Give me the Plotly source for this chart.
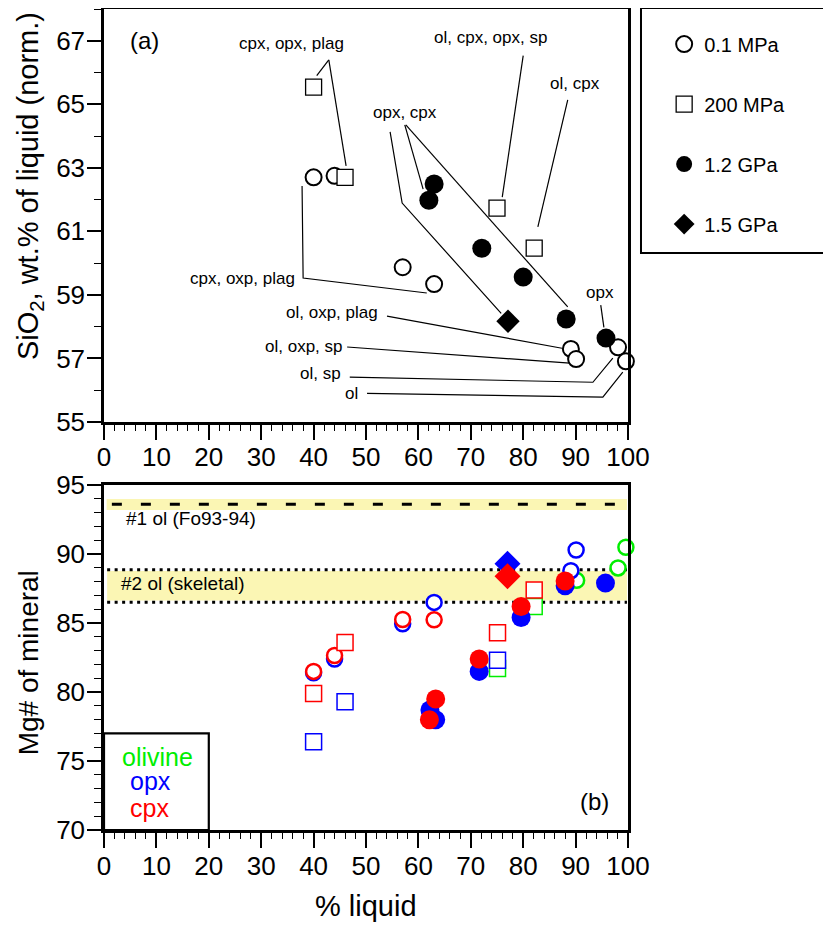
import plotly.graph_objects as go

# ---------------- data: panel (a) SiO2 of liquid ----------------
liq_01 = [40, 44, 57, 63, 89.1, 90.1, 98.1, 99.6]
sio2_01 = [62.7, 62.75, 59.87, 59.34, 57.3, 56.98, 57.35, 56.91]
liq_200 = [40, 46, 75, 82.1]
sio2_200 = [65.54, 62.7, 61.73, 60.47]
liq_12 = [62, 63, 72.1, 80, 88.2, 95.8]
sio2_12 = [61.98, 62.49, 60.47, 59.56, 58.24, 57.64]
liq_15 = [77.1]
sio2_15 = [58.17]

# ---------------- data: panel (b) Mg# of minerals ----------------
ol_01_x = [90.2, 98.1, 99.6]
ol_01_y = [88.1, 89.0, 90.5]
ol_200_x = [75.1, 82.1]
ol_200_y = [81.7, 86.2]

opx_01_x = [40, 44, 57, 63, 89.1, 90.1]
opx_01_y = [81.4, 82.4, 84.95, 86.5, 88.8, 90.3]
opx_200_x = [40, 46, 75.1]
opx_200_y = [76.4, 79.3, 82.3]
opx_12_x = [62.2, 63.3, 71.6, 79.6, 88.0, 95.7]
opx_12_y = [78.7, 78.0, 81.5, 85.4, 87.7, 87.9]
opx_15_x = [77.0]
opx_15_y = [89.3]

cpx_01_x = [40, 44, 57, 63]
cpx_01_y = [81.5, 82.65, 85.26, 85.24]
cpx_200_x = [40, 46, 75.1, 82.1]
cpx_200_y = [79.9, 83.6, 84.3, 87.4]
cpx_12_x = [62.1, 63.3, 71.6, 79.6, 88.0]
cpx_12_y = [78.0, 79.5, 82.4, 86.2, 88.05]
cpx_15_x = [77.0]
cpx_15_y = [88.4]

# phase-assemblage labels (panel a)
labels_a = ["cpx, opx, plag", "ol, cpx, opx, sp", "ol, cpx", "opx, cpx",
            "cpx, oxp, plag", "ol, oxp, plag", "ol, oxp, sp", "ol, sp", "ol", "opx"]

FONT = "Liberation Sans, Arial, Helvetica, sans-serif"
GREEN, BLUE, RED = "#00EE00", "#0000FF", "#FF0000"

fig = go.Figure()

# ---------------- panel (a) traces ----------------
fig.add_trace(go.Scatter(x=liq_01, y=sio2_01, mode="markers", name="0.1 MPa",
                         legendgroup="a", xaxis="x", yaxis="y", cliponaxis=False,
                         marker=dict(symbol="circle", size=16, color="white",
                                     line=dict(color="black", width=2))))
fig.add_trace(go.Scatter(x=liq_200, y=sio2_200, mode="markers", name="200 MPa",
                         legendgroup="b", xaxis="x", yaxis="y", cliponaxis=False,
                         marker=dict(symbol="square", size=16, color="white",
                                     line=dict(color="black", width=1.3))))
fig.add_trace(go.Scatter(x=liq_12, y=sio2_12, mode="markers", name="1.2 GPa",
                         legendgroup="c", xaxis="x", yaxis="y", cliponaxis=False,
                         marker=dict(symbol="circle", size=19, color="black")))
fig.add_trace(go.Scatter(x=liq_15, y=sio2_15, mode="markers", name="1.5 GPa",
                         legendgroup="d", xaxis="x", yaxis="y", cliponaxis=False,
                         marker=dict(symbol="diamond", size=18, color="black")))

# ---------------- panel (b) traces ----------------
def add_b(x, y, symbol, color, filled, size, lw):
    if filled:
        mk = dict(symbol=symbol, size=size, color=color, line=dict(width=0))
    else:
        mk = dict(symbol=symbol, size=size, color="white", line=dict(color=color, width=lw))
    fig.add_trace(go.Scatter(x=x, y=y, mode="markers", showlegend=False,
                             xaxis="x2", yaxis="y2", cliponaxis=False, marker=mk))

add_b(ol_01_x, ol_01_y, "circle", GREEN, False, 15, 2.5)
add_b(opx_01_x, opx_01_y, "circle", BLUE, False, 15, 2.5)
add_b(cpx_01_x, cpx_01_y, "circle", RED, False, 15, 2.5)
add_b(ol_200_x, ol_200_y, "square", GREEN, False, 16, 1.5)
add_b(opx_200_x, opx_200_y, "square", BLUE, False, 16, 1.5)
add_b(cpx_200_x, cpx_200_y, "square", RED, False, 16, 1.5)
add_b(opx_12_x, opx_12_y, "circle", BLUE, True, 19, 0)
add_b(cpx_12_x, cpx_12_y, "circle", RED, True, 19, 0)
add_b(opx_15_x, opx_15_y, "diamond", BLUE, True, 20, 0)
add_b(cpx_15_x, cpx_15_y, "diamond", RED, True, 20, 0)

# ---------------- leader lines (panel a) ----------------
leaders = [
    [(42.9, 66.40), (40.6, 65.90)],
    [(42.9, 66.40), (46.2, 63.06)],
    [(80.0, 66.53), (76.0, 62.08)],
    [(88.5, 65.14), (82.8, 61.14)],
    [(57.4, 64.35), (60.9, 62.33)],
    [(57.6, 64.35), (88.5, 58.62)],
    [(54.6, 64.13), (56.9, 61.89), (75.8, 58.42)],
    [(37.8, 62.43), (38.0, 59.53), (61.6, 59.06)],
    [(54.0, 58.33), (87.4, 57.32)],
    [(46.4, 57.36), (88.9, 56.85)],
    [(46.9, 56.41), (93.3, 56.25), (97.1, 57.01)],
    [(50.2, 55.90), (95.2, 55.78), (99.0, 56.57)],
    [(94.8, 58.68), (95.4, 57.98)],
]
shapes = []
for pts in leaders:
    path = "M " + " L ".join(f"{px},{py}" for px, py in pts)
    shapes.append(dict(type="path", path=path, xref="x", yref="y",
                       line=dict(color="black", width=1.2)))

# label placement: (x, y, xanchor)
label_pos = [(35.7, 66.91, "center"), (73.7, 67.10, "center"), (89.9, 65.64, "center"),
             (57.4, 64.73, "center"), (36.8, 59.53, "right"), (52.7, 58.46, "right"),
             (46.0, 57.36, "right"), (45.6, 56.54, "right"), (48.9, 55.90, "right"),
             (94.7, 59.09, "center")]
annotations = []
for txt, (ax_, ay_, anc) in zip(labels_a, label_pos):
    annotations.append(dict(text=txt, x=ax_, y=ay_, xref="x", yref="y", xanchor=anc,
                            yanchor="middle", showarrow=False,
                            font=dict(size=17, color="black", family=FONT)))

annotations.append(dict(text="(a)", x=7.8, y=67.0, xref="x", yref="y", showarrow=False,
                        font=dict(size=24, color="black", family=FONT)))
annotations.append(dict(text="(b)", x=96.8, y=72.1, xref="x2", yref="y2", showarrow=False,
                        xanchor="right", font=dict(size=24, color="black", family=FONT)))

# ---------------- panel (b) bands ----------------
shapes.append(dict(type="rect", xref="x2", yref="y2", x0=0.5, x1=99.8, y0=93.2, y1=94.0,
                   fillcolor="#FBF6B4", line=dict(width=0), layer="below"))
shapes.append(dict(type="rect", xref="x2", yref="y2", x0=0.6, x1=99.8, y0=86.64, y1=88.77,
                   fillcolor="#FBF6B4", line=dict(width=0), layer="below"))
shapes.append(dict(type="line", xref="x2", yref="y2", x0=1.5, x1=99.5, y0=93.62, y1=93.62,
                   line=dict(color="black", width=3, dash="10px,19px"), layer="below"))
for yy in (88.87, 86.52):
    shapes.append(dict(type="line", xref="x2", yref="y2", x0=0.6, x1=99.8, y0=yy, y1=yy,
                       line=dict(color="black", width=3, dash="3px,4.5px"), layer="below"))

annotations.append(dict(text="#1 ol (Fo93-94)", x=3.8, y=92.6, xref="x2", yref="y2",
                        xanchor="left", showarrow=False,
                        font=dict(size=19, color="black", family=FONT)))
annotations.append(dict(text="#2 ol (skeletal)", x=2.9, y=87.88, xref="x2", yref="y2",
                        xanchor="left", showarrow=False,
                        font=dict(size=19, color="black", family=FONT)))

# mineral key box (panel b)
shapes.append(dict(type="rect", xref="x2", yref="y2", x0=0, x1=20, y0=70, y1=77,
                   fillcolor="white", line=dict(color="black", width=2.2)))
for txt, col, yy, xx in (("olivine", GREEN, 75.3, 10.3), ("opx", BLUE, 73.55, 8.8),
                         ("cpx", RED, 71.6, 8.6)):
    annotations.append(dict(text=txt, x=xx, y=yy, xref="x2", yref="y2", showarrow=False,
                            font=dict(size=25, color=col, family=FONT)))

# right-hand legend box
shapes.append(dict(type="rect", xref="paper", yref="paper", x0=1.0248, x1=1.3836,
                   y0=0.7028, y1=1.0012, line=dict(color="black", width=2),
                   fillcolor="white", layer="below"))

# axis titles
annotations.append(dict(text="SiO<sub>2</sub>, wt.% of liquid (norm.)", x=-0.141, y=0.9988,
                        xref="paper", yref="paper", textangle=-90, showarrow=False,
                        xanchor="center", yanchor="top",
                        font=dict(size=29, color="black", family=FONT)))
annotations.append(dict(text="Mg# of mineral", x=-0.145, y=0.203,
                        xref="paper", yref="paper", textangle=-90, showarrow=False,
                        xanchor="center", yanchor="middle",
                        font=dict(size=28, color="black", family=FONT)))
annotations.append(dict(text="% liquid", x=0.5, y=-0.092, xref="paper", yref="paper",
                        xanchor="center", yanchor="middle",
                        showarrow=False, font=dict(size=29, color="black", family=FONT)))

axis_common = dict(showline=True, linecolor="black", linewidth=2.5, mirror=True,
                   showgrid=False, zeroline=False, ticks="outside", tickcolor="black",
                   tickwidth=1.5, tickfont=dict(size=26, color="black", family=FONT),
                   automargin=False)

# the page body has an 8px margin, so the figure margins are reduced by 8px on top/left
fig.update_layout(
    width=831, height=925,
    margin=dict(l=96, r=211, t=1, b=103, autoexpand=False),
    paper_bgcolor="white", plot_bgcolor="white",
    font=dict(family=FONT, color="black"),
    xaxis=dict(domain=[0, 1], range=[0, 100], dtick=10, tick0=0, ticklen=15,
               ticklabelstandoff=-5,
               minor=dict(dtick=2, ticklen=6, ticks="outside", tickcolor="black", tickwidth=1.2),
               anchor="y", **axis_common),
    yaxis=dict(domain=[0.497, 1], range=[55, 68], dtick=2, tick0=55, ticklen=14,
               ticklabelstandoff=-3,
               minor=dict(dtick=1, ticklen=7, ticks="outside", tickcolor="black", tickwidth=1.2),
               anchor="x", **axis_common),
    xaxis2=dict(domain=[0, 1], range=[0, 100], dtick=10, tick0=0, ticklen=15,
                ticklabelstandoff=-4,
                minor=dict(dtick=2, ticklen=6, ticks="outside", tickcolor="black", tickwidth=1.2),
                anchor="y2", **axis_common),
    yaxis2=dict(domain=[0, 0.420], range=[70, 95], dtick=5, tick0=70, ticklen=14,
                ticklabelstandoff=-3,
                minor=dict(dtick=1, ticklen=7, ticks="outside", tickcolor="black", tickwidth=1.2),
                anchor="x2", **axis_common),
    showlegend=True,
    legend=dict(x=1.069, y=0.981, xanchor="left", yanchor="top", bgcolor="rgba(0,0,0,0)",
                borderwidth=0, font=dict(size=20, color="black", family=FONT),
                traceorder="grouped", tracegroupgap=31, itemsizing="trace"),
    shapes=shapes, annotations=annotations,
)

fig.write_html("out.html")
